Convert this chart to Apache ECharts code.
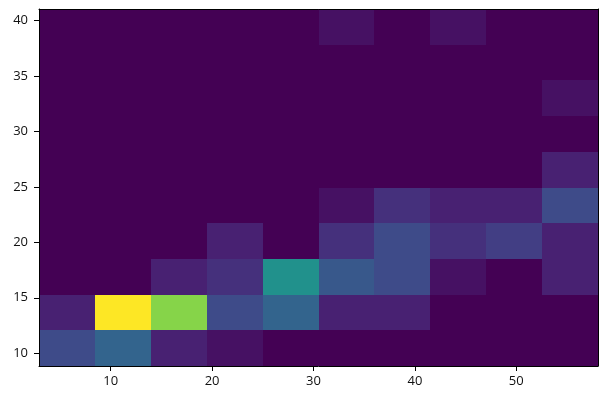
<!DOCTYPE html>
<html>
<head>
<meta charset="utf-8">
<script src="https://cdn.jsdelivr.net/npm/echarts@6/dist/echarts.min.js"></script>
<style>html,body{margin:0;padding:0;background:#fff}#c{width:606px;height:400px}</style>
</head>
<body>
<div id="c"></div>
<script>
// Histogram extent (data units) and bin count
const xRange = [2.93, 58.06];
const yRange = [8.85, 41.03];
const nBinsX = 10;
const nBinsY = 10;
// Counts per bin, rows from bottom (low y) to top (high y), columns left to right
const countsRow0 = [5, 7, 2, 1, 0, 0, 0, 0, 0, 0];
const countsRow1 = [2, 22, 18, 5, 7, 2, 2, 0, 0, 0];
const countsRow2 = [0, 0, 2, 3, 11, 6, 5, 1, 0, 2];
const countsRow3 = [0, 0, 0, 2, 0, 3, 5, 3, 4, 2];
const countsRow4 = [0, 0, 0, 0, 0, 1, 3, 2, 2, 5];
const countsRow5 = [0, 0, 0, 0, 0, 0, 0, 0, 0, 2];
const countsRow6 = [0, 0, 0, 0, 0, 0, 0, 0, 0, 0];
const countsRow7 = [0, 0, 0, 0, 0, 0, 0, 0, 0, 1];
const countsRow8 = [0, 0, 0, 0, 0, 0, 0, 0, 0, 0];
const countsRow9 = [0, 0, 0, 0, 0, 1, 0, 1, 0, 0];
const xTicks = [10, 20, 30, 40, 50];
const yTicks = [10, 15, 20, 25, 30, 35, 40];

const rows = [countsRow0, countsRow1, countsRow2, countsRow3, countsRow4,
              countsRow5, countsRow6, countsRow7, countsRow8, countsRow9];
const bw = (xRange[1] - xRange[0]) / nBinsX;
const bh = (yRange[1] - yRange[0]) / nBinsY;
const data = [];
let maxCount = 0;
rows.forEach((row, j) => row.forEach((v, i) => {
  data.push([xRange[0] + i * bw, xRange[0] + (i + 1) * bw,
             yRange[0] + j * bh, yRange[0] + (j + 1) * bh, v]);
  if (v > maxCount) maxCount = v;
}));

const viridis = ['#440154','#482475','#414487','#355f8d','#2a788e','#21918c',
                 '#22a884','#44bf70','#7ad151','#bddf26','#fde725'];
const font = 'Open Sans';
const chart = echarts.init(document.getElementById('c'));
chart.setOption({
  animation: false,
  backgroundColor: '#fff',
  grid: {left: 39, right: 8, top: 9, bottom: 34},
  visualMap: {show: false, type: 'continuous', min: 0, max: maxCount,
              dimension: 4, inRange: {color: viridis}},
  xAxis: [{
    type: 'value', min: xRange[0], max: xRange[1], z: 10,
    splitLine: {show: false},
    axisLine: {show: true, onZero: false, lineStyle: {color: '#000', width: 1}},
    axisTick: {show: true, length: 5, customValues: xTicks, lineStyle: {color: '#000'}},
    axisLabel: {customValues: xTicks, margin: 9, color: '#111', fontFamily: font, fontSize: 13}
  }, {
    type: 'value', position: 'top', min: xRange[0], max: xRange[1], z: 10,
    splitLine: {show: false}, axisTick: {show: false}, axisLabel: {show: false},
    axisLine: {show: true, onZero: false, lineStyle: {color: '#000', width: 1}}
  }],
  yAxis: [{
    type: 'value', min: yRange[0], max: yRange[1], z: 10,
    splitLine: {show: false},
    axisLine: {show: true, onZero: false, lineStyle: {color: '#000', width: 1}},
    axisTick: {show: true, length: 5, customValues: yTicks, lineStyle: {color: '#000'}},
    axisLabel: {customValues: yTicks, margin: 11, color: '#111', fontFamily: font, fontSize: 13}
  }, {
    type: 'value', position: 'right', min: yRange[0], max: yRange[1], z: 10,
    splitLine: {show: false}, axisTick: {show: false}, axisLabel: {show: false},
    axisLine: {show: true, onZero: false, lineStyle: {color: '#000', width: 1}}
  }],
  series: [{
    type: 'custom',
    xAxisIndex: 0, yAxisIndex: 0,
    encode: {x: [0, 1], y: [2, 3]},
    data: data,
    renderItem: function (params, api) {
      const p0 = api.coord([api.value(0), api.value(2)]);
      const p1 = api.coord([api.value(1), api.value(3)]);
      const x0 = Math.round(p0[0]), x1 = Math.round(p1[0]);
      const yb = Math.round(p0[1]), yt = Math.round(p1[1]);
      return {type: 'rect',
        shape: {x: x0, y: yt, width: x1 - x0, height: yb - yt},
        style: {fill: api.visual('color')}};
    }
  }]
});
</script>
</body>
</html>
